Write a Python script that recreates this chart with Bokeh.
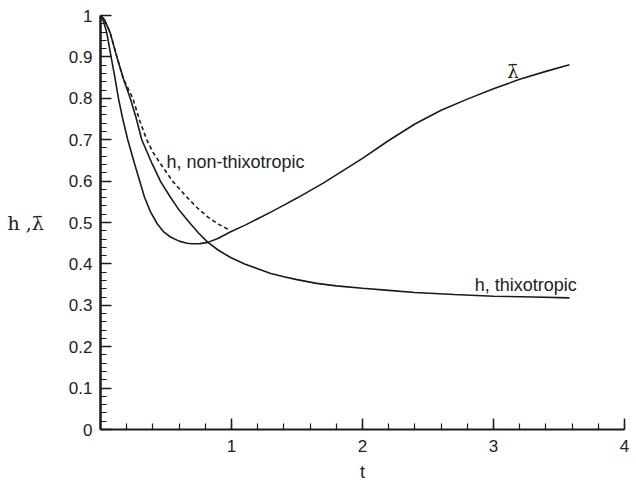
from bokeh.plotting import figure
from bokeh.models import Range1d, FixedTicker, CustomJSTickFormatter, Label
from bokeh.embed import file_html
from bokeh.resources import INLINE

# lambda-bar curve
t_lam = [0, 0.024, 0.048, 0.081, 0.11, 0.137, 0.17, 0.208, 0.26, 0.336, 0.38, 0.433, 0.48,
         0.534, 0.6, 0.66, 0.70, 0.76, 0.82, 0.9, 0.99, 1.1, 1.2, 1.3, 1.4, 1.5, 1.6, 1.7,
         1.8, 1.9, 2.0, 2.2, 2.4, 2.6, 2.8, 3.0, 3.2, 3.4, 3.58]
lam = [1.0, 0.985, 0.958, 0.9, 0.85, 0.8, 0.75, 0.7, 0.642, 0.561, 0.527, 0.497, 0.478,
       0.465, 0.455, 0.45, 0.4485, 0.449, 0.452, 0.462, 0.477, 0.493, 0.509, 0.525, 0.542,
       0.559, 0.577, 0.595, 0.615, 0.635, 0.655, 0.698, 0.738, 0.771, 0.798, 0.823, 0.846,
       0.865, 0.881]

# h, thixotropic
t_h = [0, 0.03, 0.074, 0.125, 0.176, 0.227, 0.27, 0.315, 0.394, 0.46, 0.534, 0.6, 0.687,
       0.75, 0.82, 0.9, 0.99, 1.1, 1.2, 1.3, 1.4, 1.5, 1.65, 1.8, 2.0, 2.2, 2.4, 2.7, 3.0,
       3.3, 3.58]
h_thixo = [1.0, 0.99, 0.958, 0.9, 0.846, 0.8, 0.755, 0.7, 0.642, 0.598, 0.561, 0.53, 0.497,
           0.474, 0.452, 0.433, 0.416, 0.4, 0.388, 0.377, 0.369, 0.362, 0.353, 0.347, 0.341,
           0.336, 0.331, 0.326, 0.322, 0.32, 0.318]

# h, non-thixotropic (dashed)
t_hn = [0, 0.03, 0.074, 0.125, 0.176, 0.247, 0.3, 0.353, 0.4, 0.458, 0.55, 0.66, 0.74,
        0.82, 0.9, 0.99]
h_non = [1.0, 0.99, 0.958, 0.9, 0.846, 0.8, 0.745, 0.7, 0.67, 0.642, 0.6, 0.561, 0.535,
         0.513, 0.496, 0.481]

y_ticks = [0, 0.1, 0.2, 0.3, 0.4, 0.5, 0.6, 0.7, 0.8, 0.9, 1.0]
y_minor = [round(i * 0.02, 2) for i in range(51)]
x_ticks = [1, 2, 3, 4]
x_minor = [round(i * 0.2, 1) for i in range(21)]

p = figure(width=636, height=484, output_backend="svg", toolbar_location=None,
           x_range=Range1d(0, 4), y_range=Range1d(0, 1),
           min_border_left=100, min_border_right=12, min_border_top=15, min_border_bottom=55)
p.outline_line_color = None
p.grid.visible = False
p.background_fill_color = "white"
p.border_fill_color = "white"

ink = "#1a1a1a"
txt = "#222222"
p.line(t_lam, lam, line_color=ink, line_width=1.6)
p.line(t_h, h_thixo, line_color=ink, line_width=1.6)
p.line(t_hn, h_non, line_color=ink, line_width=1.6, line_dash="4 3")


def lab(x, y, text, font, size, align="left"):
    p.add_layout(Label(x=x, y=y, text=text, text_font=font, text_font_size=size,
                       text_color=txt, text_align=align, text_baseline="alphabetic"))


lab(0.504, 0.645, "h, non-thixotropic", "Liberation Sans", "18px")
lab(2.857, 0.349, "h, thixotropic", "Liberation Sans", "18px")
lab(3.149, 0.865, "\u03bb\u0304", "DejaVu Serif", "18px", "center")

fmt = CustomJSTickFormatter(code="return String(Number(tick.toFixed(2)));")

for ax, ticks, minor in ((p.xaxis[0], x_ticks, x_minor), (p.yaxis[0], y_ticks, y_minor)):
    ax.ticker = FixedTicker(ticks=ticks, minor_ticks=minor)
    ax.formatter = fmt
    ax.axis_line_color = ink
    ax.major_tick_line_color = ink
    ax.minor_tick_line_color = ink
    ax.major_tick_in = 11
    ax.major_tick_out = 0
    ax.minor_tick_in = 6
    ax.minor_tick_out = 0
    ax.major_tick_line_width = 1.5
    ax.minor_tick_line_width = 1.2
    ax.major_label_text_font = "Liberation Sans"
    ax.major_label_text_font_size = "17px"
    ax.major_label_text_color = txt
    ax.axis_label_text_font_style = "normal"
    ax.axis_label_text_color = txt

p.xaxis[0].major_label_standoff = 10
p.yaxis[0].major_label_standoff = 8
p.yaxis[0].axis_line_width = 2.5
p.xaxis[0].axis_line_width = 2

p.xaxis[0].axis_label = "t"
p.xaxis[0].axis_label_text_font = "Liberation Sans"
p.xaxis[0].axis_label_text_font_size = "18px"
p.xaxis[0].axis_label_standoff = 7

p.yaxis[0].axis_label = "h ,\u03bb\u0304"
p.yaxis[0].axis_label_orientation = "horizontal"
p.yaxis[0].axis_label_text_font = "DejaVu Serif"
p.yaxis[0].axis_label_text_font_size = "19px"
p.yaxis[0].axis_label_standoff = 22

open("out.html", "w").write(file_html(p, INLINE))
